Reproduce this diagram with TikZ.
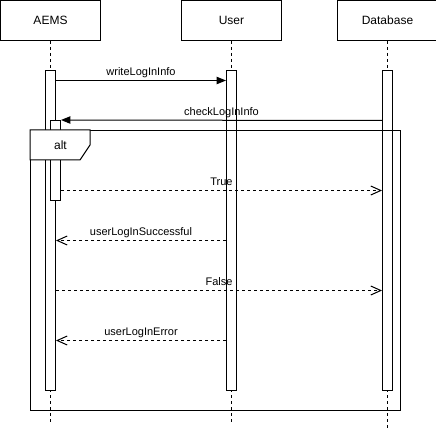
\documentclass[tikz,border=0pt]{standalone}
\usepackage{fontspec}
\setmainfont{Liberation Sans}
\usepackage{tikz}
\usetikzlibrary{arrows.meta,positioning}
\tikzstyle{head}=[
	draw=black,
	line width=0.75pt,
	minimum width=75pt,
	minimum height=30pt,
	inner sep=0pt,
	font=\fontsize{9}{10.8}\selectfont
]
\tikzstyle{bar}=[
	draw=black,
	fill=white,
	line width=0.75pt,
	minimum width=7.5pt,
	inner sep=0pt
]
\tikzstyle{lifeline}=[
	draw=black,
	line width=0.75pt,
	dash pattern=on 2.25pt off 2.25pt
]
\tikzstyle{call}=[
	draw=black,
	line width=0.75pt,
	-{Triangle[length=7pt,width=5.5pt]}
]
\tikzstyle{reply}=[
	draw=black,
	line width=0.75pt,
	dash pattern=on 2.25pt off 2.25pt,
	-{Straight Barb[length=7.5pt,width=6.75pt]}
]
\tikzstyle{msglabel}=[
	anchor=base,
	yshift=3.75pt,
	inner sep=0pt,
	font=\fontsize{8.25}{9.9}\selectfont
]
\tikzstyle{frame}=[
	draw=black,
	line width=0.75pt
]
\begin{document}
\begin{tikzpicture}[x=0.75pt,y=-0.75pt]
\useasboundingbox (-0.5,-0.5) rectangle (435.5,430.5);

\node[head] (aems) at (50,20) {AEMS};
\node[head, right=60pt of aems] (user) {User};
\node[head, right=41.25pt of user] (db) {Database};

\coordinate (aemsend) at (aems |- 0,421);
\coordinate (userend) at (user |- 0,421);
\coordinate (dbend) at (db |- 0,428);
\draw[lifeline] (aems) -- (aemsend);
\draw[lifeline] (user) -- (userend);
\draw[lifeline] (db) -- (dbend);

\node[bar, minimum height=240pt] (aemsbar) at (aems |- 0,230) {};
\node[bar, minimum height=240pt] (userbar) at (user |- 0,230) {};
\node[bar, minimum height=240pt] (dbbar) at (db |- 0,230) {};
\node[bar, minimum height=60pt] (checkbar) at (55,160) {};

\draw[call] (aemsbar.east |- 0,80) -- node[msglabel] {writeLogInInfo} (userbar.west |- 0,80);
\draw[call] (dbbar.west |- 0,120) -- node[msglabel] {checkLogInInfo} (checkbar.north east);
\draw[reply] (checkbar.east |- 0,190) -- node[msglabel] {True} (dbbar.west |- 0,190);
\draw[reply] (userbar.west |- 0,240) -- node[msglabel] {userLogInSuccessful} (aemsbar.east |- 0,240);
\draw[reply] (aemsbar.east |- 0,290) -- node[msglabel] {False} (dbbar.west |- 0,290);
\draw[reply] (userbar.west |- 0,340) -- node[msglabel] {userLogInError} (aemsbar.east |- 0,340);

% alt fragment
\node[frame, minimum width=277.5pt, minimum height=210pt, inner sep=0pt] (alt) at (215,270) {};
\draw[frame, fill=white] (alt.north west) -- ++(60,0) -- ++(0,15) -- ++(-10,15) -- ++(-50,0) -- cycle;
\node[font=\fontsize{9}{10.8}\selectfont, inner sep=0pt] (altname) at (60,145) {alt};

\end{tikzpicture}
\end{document}
